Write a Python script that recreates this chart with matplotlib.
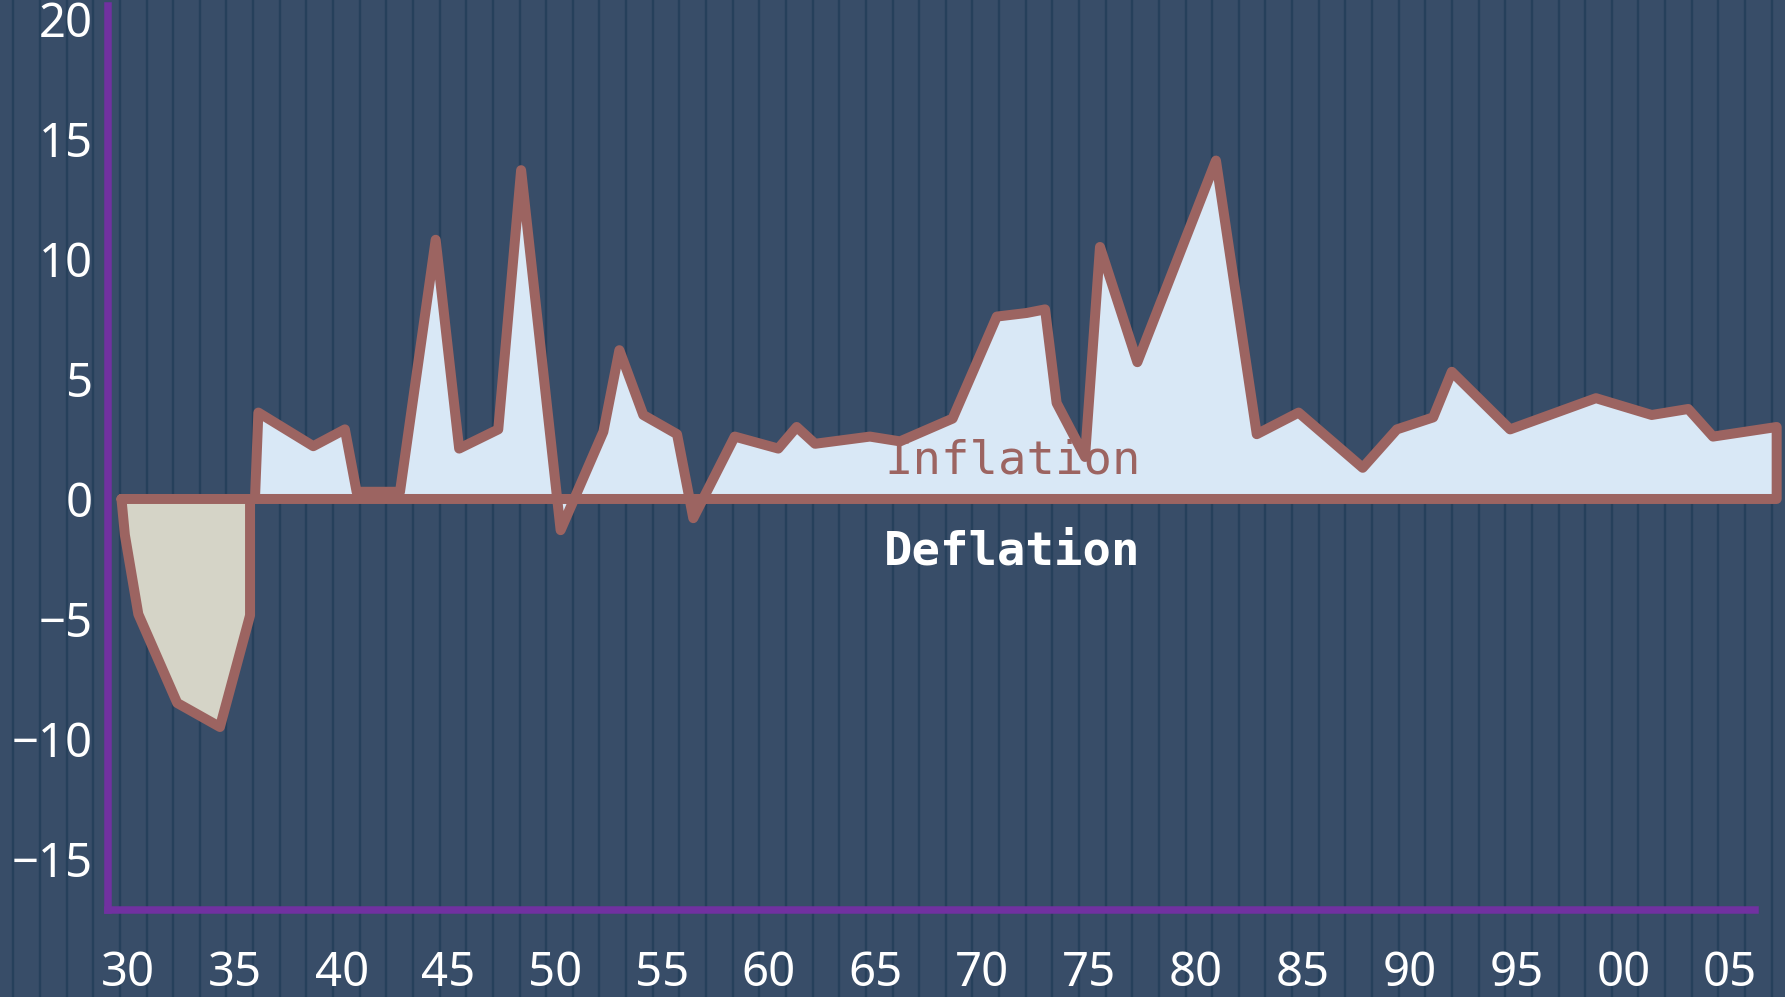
import numpy as np
import matplotlib
matplotlib.use("Agg")
import matplotlib.pyplot as plt
from matplotlib.lines import Line2D

plt.rcParams['axes.unicode_minus'] = True

# ---- data ----
defl_years = [1929.69, 1929.85, 1930.48, 1932.30, 1934.30, 1935.71, 1935.71]
defl_values = [0.0, -1.5, -4.8, -8.5, -9.5, -4.85, 0.0]

infl_years = [1935.94, 1936.10, 1938.67, 1940.15, 1940.70, 1942.73, 1944.40,
              1945.50, 1947.33, 1948.40, 1950.25, 1952.25, 1953.00, 1954.12,
              1955.70, 1956.46, 1958.40, 1960.44, 1961.30, 1962.16, 1964.73,
              1966.14, 1968.60, 1970.67, 1972.07, 1972.93, 1973.47, 1974.80,
              1975.50, 1977.25, 1980.93, 1982.84, 1984.80, 1987.80, 1989.40,
              1991.10, 1991.97, 1994.70, 1998.72, 2001.33, 2003.04, 2004.20,
              2007.18, 2007.18]
infl_values = [0.0, 3.6, 2.2, 2.9, 0.3, 0.3, 10.8,
               2.1, 2.9, 13.7, -1.3, 2.8, 6.2, 3.5,
               2.7, -0.8, 2.6, 2.1, 3.0, 2.3, 2.6,
               2.4, 3.35, 7.6, 7.75, 7.9, 4.0, 1.75,
               10.5, 5.7, 14.1, 2.7, 3.6, 1.3, 2.9,
               3.4, 5.3, 2.9, 4.2, 3.5, 3.75, 2.6,
               3.0, 0.0]

x_tick_years = [1930, 1935, 1940, 1945, 1950, 1955, 1960, 1965,
                1970, 1975, 1980, 1985, 1990, 1995, 2000, 2005]
x_tick_labels = ["30", "35", "40", "45", "50", "55", "60", "65",
                 "70", "75", "80", "85", "90", "95", "00", "05"]
y_ticks = [-15, -10, -5, 0, 5, 10, 15, 20]

label_infl = "Inflation"
label_defl = "Deflation"

# ---- style ----
BG = "#384d68"
STRIPE = "#26405b"
LINE = "#9c6461"
FILL_POS = "#d9e8f6"
FILL_NEG = "#d5d4c7"
AXIS = "#7131a0"

W, H = 1785, 997
fig = plt.figure(figsize=(W / 100, H / 100), dpi=100, facecolor=BG)

# background stripes
n_stripes = 67
for i in range(n_stripes):
    xf = (i + 0.5) / n_stripes
    fig.add_artist(Line2D([xf, xf], [0, 1], transform=fig.transFigure,
                          color=STRIPE, lw=1.7, zorder=-5))

ax = fig.add_axes([108 / W, 1 - 910 / H, (W - 108) / W, (910 - 6) / H])
ax.set_facecolor("none")
ax.set_xlim(1929.06, 2007.57)
ax.set_ylim(-17.125, 20.54)

# fills
ax.fill(defl_years, defl_values, facecolor=FILL_NEG, edgecolor="none", zorder=1)
ax.fill(infl_years, infl_values, facecolor=FILL_POS, edgecolor="none", zorder=1)

# labels (under the outlines)
ax.text(1965.40, 1.08, label_infl, family="DejaVu Sans Mono", fontsize=34,
        color=LINE, ha="left", va="baseline", zorder=2)
ax.text(1965.40, -2.75, label_defl, family="DejaVu Sans Mono", fontsize=34,
        fontweight="bold", color="white", ha="left", va="baseline", zorder=2)

# outlines (closed polygons)
for xs, ys in ((defl_years, defl_values), (infl_years, infl_values)):
    xs_c = list(xs) + [xs[0]]
    ys_c = list(ys) + [ys[0]]
    ax.plot(xs_c, ys_c, color=LINE, lw=7.2, solid_joinstyle="round",
            solid_capstyle="round", zorder=3, clip_on=False)

# spines
for s in ("top", "right"):
    ax.spines[s].set_visible(False)
for s in ("left", "bottom"):
    ax.spines[s].set_color(AXIS)
    ax.spines[s].set_linewidth(5.4)
    ax.spines[s].set_zorder(4)
ax.spines["bottom"].set_bounds(1929.06, 2006.17)

ax.set_xticks(x_tick_years)
ax.set_xticklabels(x_tick_labels)
ax.set_yticks(y_ticks)
ax.set_yticklabels([str(v).replace("-", "\u2212") for v in y_ticks])
ax.tick_params(axis="both", length=0, colors="white", labelsize=34)
ax.tick_params(axis="x", pad=29)
ax.tick_params(axis="y", pad=11)
for lab in ax.get_xticklabels() + ax.get_yticklabels():
    lab.set_family("Noto Sans")

fig.savefig("out.png", dpi=100, facecolor=BG)
